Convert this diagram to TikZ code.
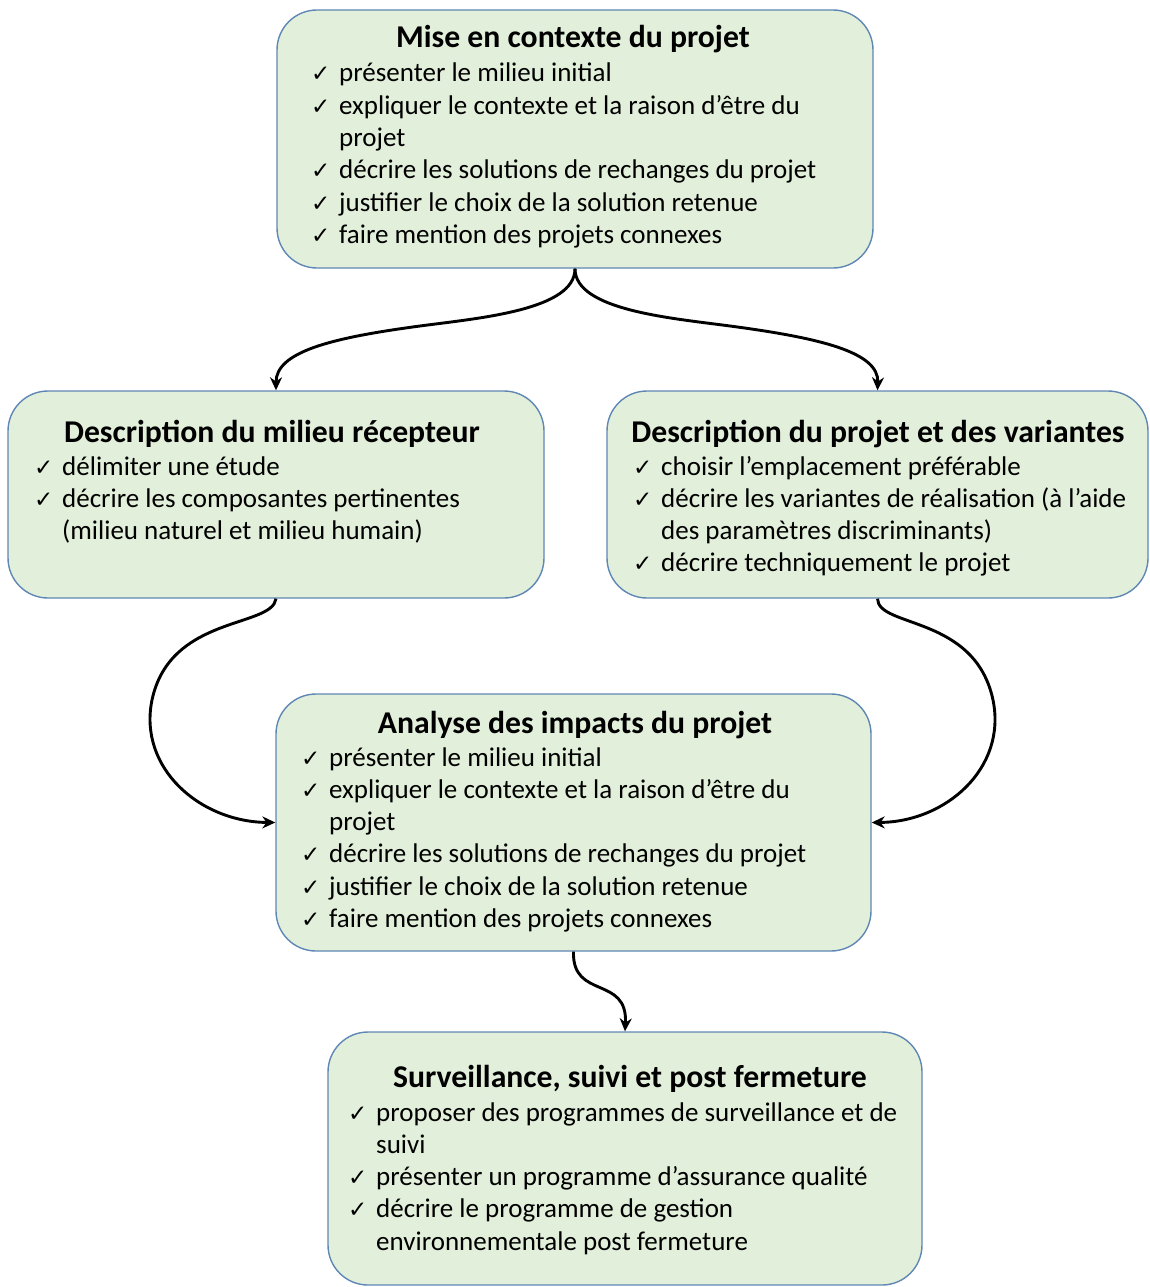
\documentclass[tikz,border=0pt]{standalone}
\usepackage{fontspec}
\setmainfont{Carlito}
\newfontfamily\symfont{DejaVu Sans}
\usetikzlibrary{arrows.meta}

\definecolor{boxgreen}{HTML}{E2EFDA}
\definecolor{boxblue}{HTML}{5F87B5}

\newcommand{\titlefont}{\fontsize{31.7}{38}\selectfont\bfseries}
\newcommand{\itemfont}{\fontsize{27}{32}\selectfont}
\newcommand{\checkfont}{\fontsize{23}{26}\symfont}

\tikzset{
  box/.style={draw=boxblue, fill=boxgreen, rounded corners=40pt, line width=1.4pt, inner sep=0pt},
  boxtitle/.style={anchor=base, font=\titlefont, inner sep=0pt},
  itemtext/.style={anchor=base west, font=\itemfont, inner sep=0pt},
  tick/.style={anchor=base west, font=\checkfont, inner sep=0pt},
  flow/.style={line width=2.9pt, -{Stealth[length=13pt, width=12pt]}}
}

\begin{document}
\begin{tikzpicture}[x=1pt, y=-1pt]
\useasboundingbox (0,0) rectangle (1150,1287);

% ---------- boxes ----------
\node[box, minimum width=596pt, minimum height=258pt] (top) at (575,139) {};
\node[box, minimum width=536pt, minimum height=207pt] (left) at (276,494.5) {};
\node[box, minimum width=541pt, minimum height=207pt] (right) at (877.5,494.5) {};
\node[box, minimum width=595pt, minimum height=257pt] (mid) at (573.5,822.5) {};
\node[box, minimum width=594pt, minimum height=253pt] (bot) at (625,1158.5) {};

% ---------- Mise en contexte du projet ----------
\node[boxtitle] (topT) at (573,48) {Mise en contexte du projet};
\node[tick] (topc1) at (311,82) {✓};
\node[itemtext] (topi1) at (339,82) {présenter le milieu initial};
\node[tick] (topc2) at (311,114.3) {✓};
\node[itemtext] (topi2) at (339,114.3) {expliquer le contexte et la raison d’être du};
\node[itemtext] (topi2b) at (339,146.6) {projet};
\node[tick] (topc3) at (311,178.9) {✓};
\node[itemtext] (topi3) at (339,178.9) {décrire les solutions de rechanges du projet};
\node[tick] (topc4) at (311,211.2) {✓};
\node[itemtext] (topi4) at (339,211.2) {justifier le choix de la solution retenue};
\node[tick] (topc5) at (311,243.5) {✓};
\node[itemtext] (topi5) at (339,243.5) {faire mention des projets connexes};

% ---------- Description du milieu récepteur ----------
\node[boxtitle] (leftT) at (272,442) {Description du milieu récepteur};
\node[tick] (leftc1) at (34,475) {✓};
\node[itemtext] (lefti1) at (62,475) {délimiter une étude};
\node[tick] (leftc2) at (34,507.3) {✓};
\node[itemtext] (lefti2) at (62,507.3) {décrire les composantes pertinentes};
\node[itemtext] (lefti2b) at (62,539.6) {(milieu naturel et milieu humain)};

% ---------- Description du projet et des variantes ----------
\node[boxtitle] (rightT) at (878,442) {Description du projet et des variantes};
\node[tick] (rightc1) at (633,475) {✓};
\node[itemtext] (righti1) at (661,475) {choisir l’emplacement préférable};
\node[tick] (rightc2) at (633,507.3) {✓};
\node[itemtext] (righti2) at (661,507.3) {décrire les variantes de réalisation (à l’aide};
\node[itemtext] (righti2b) at (661,539.6) {des paramètres discriminants)};
\node[tick] (rightc3) at (633,571.9) {✓};
\node[itemtext] (righti3) at (661,571.9) {décrire techniquement le projet};

% ---------- Analyse des impacts du projet ----------
\node[boxtitle] (midT) at (575,733) {Analyse des impacts du projet};
\node[tick] (midc1) at (301,766) {✓};
\node[itemtext] (midi1) at (329,766) {présenter le milieu initial};
\node[tick] (midc2) at (301,798.3) {✓};
\node[itemtext] (midi2) at (329,798.3) {expliquer le contexte et la raison d’être du};
\node[itemtext] (midi2b) at (329,830.6) {projet};
\node[tick] (midc3) at (301,862.9) {✓};
\node[itemtext] (midi3) at (329,862.9) {décrire les solutions de rechanges du projet};
\node[tick] (midc4) at (301,895.2) {✓};
\node[itemtext] (midi4) at (329,895.2) {justifier le choix de la solution retenue};
\node[tick] (midc5) at (301,927.5) {✓};
\node[itemtext] (midi5) at (329,927.5) {faire mention des projets connexes};

% ---------- Surveillance, suivi et post fermeture ----------
\node[boxtitle] (botT) at (630,1087) {Surveillance, suivi et post fermeture};
\node[tick] (botc1) at (348,1121) {✓};
\node[itemtext] (boti1) at (376,1121) {proposer des programmes de surveillance et de};
\node[itemtext] (boti1b) at (376,1153.3) {suivi};
\node[tick] (botc2) at (348,1185.6) {✓};
\node[itemtext] (boti2) at (376,1185.6) {présenter un programme d’assurance qualité};
\node[tick] (botc3) at (348,1217.9) {✓};
\node[itemtext] (boti3) at (376,1217.9) {décrire le programme de gestion};
\node[itemtext] (boti3b) at (376,1250.2) {environnementale post fermeture};

% ---------- connectors ----------
\draw[flow] (top.south) .. controls (575,310) and (480,318) .. (420,326)
  .. controls (330,338) and (276,352) .. (left.north);
\draw[flow] (top.south) .. controls (575,310) and (670,318) .. (730,326)
  .. controls (820,338) and (879,352) .. (right.north);
\draw[flow] (left.south) .. controls (272,628) and (170,615) .. (152,700)
  .. controls (138,768) and (200,822) .. (mid.west);
\draw[flow] (right.south) .. controls (878,628) and (975,615) .. (993,700)
  .. controls (1007,768) and (946,822) .. (mid.east);
\draw[flow] (mid.south) .. controls (572,1000) and (628,975) .. (bot.north);
\end{tikzpicture}
\end{document}
